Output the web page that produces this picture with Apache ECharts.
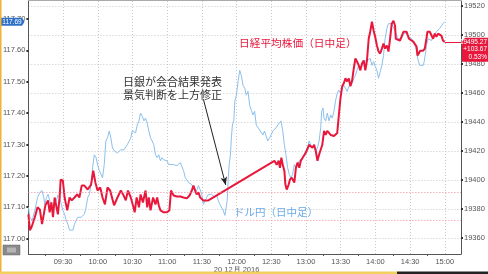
<!DOCTYPE html>
<html><head><meta charset="utf-8">
<script src="https://cdn.jsdelivr.net/npm/echarts@6/dist/echarts.min.js"></script>
<style>html,body{margin:0;padding:0;background:#fff;overflow:hidden}#c{width:488px;height:274px}</style>
</head><body><div id="c"></div>
<script>
// ---- data (minutes after 09:00, value) ----
const xLabelMinutes = [30, 60, 90, 120, 150, 180, 210, 240, 270, 300, 330, 360];
const dateLabel = '20 12月 2016';
const usdTicks = [117.0, 117.1, 117.2, 117.3, 117.4, 117.5, 117.6, 117.7];
const nikTicks = [19360, 19380, 19400, 19420, 19440, 19460, 19480, 19500, 19520];
const nikkeiPrevClose = 19391.6;
const usdRefLevel = 117.055;
const nikkeiTagLines = ['19495.27', '+103.67', '0.53%'];
const usdTag = '117.69';

const nikkeiPoints = [
[0,19376.4],[1.3,19365.5],[2.7,19367.5],[5.6,19374.4],[7.9,19381.2],[9.9,19379.8],[11.8,19369.6],[14.7,19382.6],[17.0,19386.0],[18.4,19377.8],[19.9,19384.6],[21.3,19374.4],[22.7,19388.0],[24.2,19388.0],[25.5,19376.4],[27.0,19388.0],[27.9,19400.3],[29.8,19399.7],[31.3,19388.0],[33.6,19379.1],[35.6,19388.0],[37.5,19386.0],[39.9,19388.0],[42.2,19390.1],[44.1,19388.0],[46.1,19396.2],[48.4,19396.2],[51.3,19393.5],[54.2,19396.9],[56.1,19406.5],[57.9,19398.3],[59.8,19392.8],[62.1,19394.9],[64.1,19388.0],[66.2,19383.2],[68.4,19394.9],[70.7,19392.8],[72.7,19386.7],[74.1,19382.6],[77.0,19388.0],[79.9,19392.8],[81.9,19390.1],[84.2,19386.0],[86.1,19392.8],[88.5,19388.0],[90.4,19382.6],[91.9,19377.8],[93.6,19388.0],[95.6,19381.2],[97.0,19390.1],[99.0,19384.6],[101.3,19392.8],[102.7,19381.2],[104.1,19388.0],[105.6,19379.1],[107.8,19388.0],[109.9,19383.2],[111.3,19388.0],[112.7,19382.6],[114.2,19379.1],[117.0,19377.8],[119.8,19377.8],[121.9,19379.1],[123.3,19392.8],[125.6,19389.4],[128.4,19388.7],[131.3,19388.7],[134.1,19388.0],[137.0,19387.4],[139.3,19389.4],[141.3,19392.8],[142.7,19396.2],[144.2,19392.8],[145.5,19390.1],[147.0,19391.5],[148.5,19388.0],[149.8,19386.7],[151.3,19386.0],[155.6,19386.0],
[212.7,19413.3],[214.7,19410.6],[216.4,19413.3],[217.5,19408.5],[218.7,19415.4],[219.9,19410.6],[221.3,19406.5],[222.2,19396.9],[223.3,19393.5],[225.0,19396.9],[226.1,19400.3],[227.6,19401.7],[229.9,19398.3],[231.3,19408.5],[232.7,19412.0],[234.2,19408.5],[235.5,19413.3],[237.0,19412.0],[239.8,19418.8],[241.3,19417.5],[242.7,19424.3],[244.1,19425.6],[245.6,19422.2],[247.0,19424.3],[248.4,19420.2],[249.9,19413.3],[251.3,19417.5],[252.7,19420.9],[254.1,19424.3],[255.6,19433.9],[257.0,19431.1],[258.4,19433.9],[259.9,19432.5],[261.3,19431.1],[264.2,19430.4],[265.5,19429.1],[267.0,19432.5],[268.4,19444.8],[269.8,19456.4],[271.3,19464.6],[272.7,19466.7],[274.1,19470.1],[275.6,19468.0],[277.0,19470.1],[278.4,19464.6],[279.9,19468.7],[281.3,19476.9],[282.7,19483.8],[284.1,19481.7],[285.6,19479.0],[287.0,19475.6],[288.4,19480.4],[289.9,19482.4],[291.3,19475.6],[292.7,19482.4],[294.2,19497.4],[295.5,19502.2],[297.0,19509.1],[298.5,19502.9],[299.8,19498.8],[301.3,19492.7],[302.7,19488.6],[304.1,19487.2],[305.6,19490.6],[307.0,19494.0],[308.4,19490.6],[309.9,19492.7],[311.3,19488.6],[312.7,19497.4],[314.1,19507.7],[315.6,19509.8],[317.0,19506.3],[317.6,19497.4],[319.3,19496.1],[321.3,19496.1],[322.7,19495.4],[324.2,19502.2],[325.5,19502.2],[327.0,19502.2],[329.0,19497.4],[330.4,19498.1],[332.7,19495.4],[334.1,19496.1],[335.6,19492.0],[336.4,19485.8],[337.5,19487.2],[338.7,19489.2],[341.3,19489.2],[342.7,19490.6],[344.1,19497.4],[345.0,19502.2],[347.0,19502.2],[348.4,19502.9],[349.9,19497.4],[351.3,19500.9],[352.7,19498.8],[354.2,19500.9],[355.5,19502.2],[357.0,19499.5],[358.5,19496.1],[359.8,19495.27]
];

const usdjpyPoints = [
[0,117.100],[1.3,117.068],[3.3,117.058],[5.6,117.090],[7.9,117.131],[9.9,117.147],[11.8,117.153],[13.3,117.131],[14.1,117.109],[15.6,117.131],[17.0,117.141],[18.4,117.122],[19.9,117.100],[21.3,117.090],[22.7,117.109],[24.2,117.122],[25.5,117.138],[27.0,117.131],[28.5,117.109],[29.8,117.090],[31.3,117.078],[32.7,117.058],[34.1,117.046],[35.6,117.027],[37.0,117.021],[38.4,117.027],[39.9,117.046],[41.3,117.058],[42.7,117.068],[44.1,117.062],[45.6,117.068],[47.0,117.068],[48.4,117.078],[49.9,117.100],[51.3,117.131],[52.7,117.141],[54.2,117.172],[55.5,117.226],[57.0,117.267],[58.5,117.258],[59.8,117.236],[61.3,117.217],[62.7,117.217],[64.1,117.194],[65.6,117.236],[67.0,117.311],[68.4,117.321],[69.9,117.343],[71.3,117.321],[72.7,117.289],[74.1,117.280],[77.0,117.273],[79.9,117.283],[82.7,117.283],[85.5,117.299],[88.5,117.321],[89.8,117.343],[91.3,117.346],[92.7,117.337],[94.1,117.362],[95.6,117.375],[97.0,117.400],[98.4,117.390],[99.9,117.375],[101.3,117.384],[102.7,117.368],[104.1,117.343],[105.6,117.321],[107.0,117.311],[108.4,117.299],[109.9,117.267],[111.3,117.258],[112.7,117.267],[114.2,117.248],[115.5,117.258],[117.0,117.251],[119.8,117.248],[121.3,117.236],[122.7,117.242],[125.6,117.236],[128.4,117.232],[131.3,117.242],[132.7,117.236],[134.1,117.217],[135.6,117.194],[137.0,117.188],[138.4,117.179],[139.9,117.185],[141.3,117.172],[142.7,117.156],[144.2,117.153],[145.5,117.153],[147.0,117.169],[148.5,117.156],[149.8,117.141],[151.3,117.109],[152.7,117.109],[154.1,117.131],[155.6,117.141],[157.0,117.147],[158.4,117.141],[159.9,117.147],[161.3,117.131],[162.7,117.138],[164.1,117.122],[165.6,117.109],[167.0,117.106],[168.4,117.090],[169.9,117.074],[170.7,117.078],[171.9,117.122],[172.7,117.185],[173.6,117.236],[174.7,117.267],[175.5,117.321],[176.4,117.362],[177.6,117.375],[178.5,117.438],[179.8,117.457],[181.3,117.501],[182.7,117.536],[184.1,117.520],[185.6,117.488],[187.0,117.479],[188.4,117.457],[189.9,117.469],[191.3,117.425],[192.7,117.409],[194.1,117.394],[195.6,117.406],[197.0,117.362],[198.4,117.368],[199.9,117.346],[201.3,117.343],[202.7,117.330],[204.2,117.343],[205.5,117.327],[207.0,117.311],[208.5,117.321],[209.8,117.330],[211.3,117.343],[212.7,117.346],[214.1,117.353],[215.6,117.362],[217.0,117.362],[218.4,117.375],[219.9,117.343],[221.3,117.299],[222.7,117.267],[224.1,117.226],[225.6,117.204],[227.0,117.194],[228.4,117.204],[229.9,117.236],[231.3,117.226],[232.7,117.236],[234.2,117.248],[235.5,117.248],[237.0,117.258],[238.5,117.267],[239.8,117.280],[241.3,117.289],[242.7,117.311],[244.1,117.299],[245.6,117.289],[247.0,117.296],[248.4,117.280],[249.9,117.289],[251.3,117.311],[252.7,117.353],[253.6,117.406],[254.7,117.416],[255.6,117.384],[257.0,117.375],[258.4,117.400],[259.9,117.375],[261.3,117.394],[262.7,117.384],[264.2,117.406],[265.5,117.438],[267.0,117.463],[268.4,117.473],[269.8,117.463],[271.3,117.479],[272.7,117.488],[274.1,117.479],[275.6,117.469],[277.0,117.485],[278.4,117.479],[279.9,117.495],[281.3,117.511],[282.7,117.520],[284.1,117.536],[285.6,117.552],[287.0,117.542],[288.4,117.536],[289.9,117.564],[291.3,117.558],[292.7,117.567],[294.2,117.564],[295.5,117.574],[297.0,117.552],[298.5,117.564],[299.8,117.549],[301.3,117.536],[302.7,117.511],[304.1,117.517],[305.6,117.552],[307.0,117.583],[308.4,117.637],[309.9,117.669],[311.3,117.685],[312.7,117.691],[314.1,117.685],[315.6,117.685],[317.0,117.662],[318.4,117.646],[319.9,117.637],[321.3,117.631],[322.7,117.637],[324.2,117.653],[325.5,117.659],[327.0,117.653],[328.5,117.643],[329.8,117.643],[331.3,117.637],[332.7,117.631],[334.1,117.621],[335.6,117.596],[337.0,117.567],[338.4,117.552],[339.9,117.549],[341.3,117.552],[342.2,117.564],[343.3,117.590],[344.1,117.615],[345.6,117.637],[347.0,117.631],[348.4,117.631],[349.9,117.643],[351.3,117.646],[352.7,117.659],[354.2,117.662],[355.5,117.669],[357.0,117.675],[358.5,117.685],[359.8,117.691]
];

// annotation arrow (data space: minutes, USD/JPY)
const arrowFrom = [151.3, 117.444];
const arrowTo = [170.6, 117.171];

// ---- chart ----
const X_MAX = 374;
const font = 'Liberation Sans';
const cjk = '"Noto Sans CJK JP"';
const pad = n => (n < 10 ? '0' : '') + n;
function fmtTime(m) {
  const t = 540 + Math.round(m);
  let s = pad(Math.floor(t / 60)) + ':' + pad(t % 60);
  if (Math.round(m) === 180) s += '\n' + dateLabel;
  return s;
}
const gridLineStyle = { color: '#c8c8c8', type: [1, 2], width: 1 };

const chart = echarts.init(document.getElementById('c'), null, { renderer: 'canvas' });
const option = {
  animation: false,
  backgroundColor: '#ffffff',
  grid: { left: 25, right: 27, top: 1, bottom: 17, containLabel: false },
  xAxis: {
    type: 'value', min: 0, max: X_MAX, interval: 30,
    axisLine: { show: true, lineStyle: { color: '#555', width: 1 } },
    axisTick: { show: false },
    minorTick: { show: true, splitNumber: 2, length: 2, lineStyle: { color: '#555' } },
    axisLabel: {
      customValues: xLabelMinutes, formatter: fmtTime,
      fontSize: 7.5, color: '#555', fontFamily: font, margin: 4, lineHeight: 8
    },
    splitLine: { show: true, lineStyle: gridLineStyle }
  },
  yAxis: [{
    type: 'value', position: 'left', min: 116.951, max: 117.757,
    axisLine: { show: true, lineStyle: { color: '#555', width: 1 } },
    axisTick: { show: true, customValues: usdTicks, length: 2, lineStyle: { color: '#333', width: 2 } },
    axisLabel: { customValues: usdTicks, formatter: v => v.toFixed(2), fontSize: 7.5, color: '#555', fontFamily: font, margin: 3 },
    splitLine: { show: false }
  }, {
    type: 'value', position: 'right', min: 19349.06, max: 19523.4,
    axisLine: { show: true, lineStyle: { color: '#555', width: 1 } },
    axisTick: { show: true, customValues: nikTicks, length: 2, lineStyle: { color: '#333', width: 2 } },
    axisLabel: { customValues: nikTicks, formatter: v => String(Math.round(v)), fontSize: 7.5, color: '#555', fontFamily: font, margin: 3 },
    splitLine: { show: true, lineStyle: gridLineStyle }
  }],
  series: [{
    name: 'ドル円', type: 'line', yAxisIndex: 0, data: usdjpyPoints,
    showSymbol: false, symbol: 'none', z: 3,
    lineStyle: { color: '#8cc0ec', width: 1 },
    markLine: {
      silent: true, symbol: ['none', 'none'], label: { show: false },
      data: [
        { yAxis: usdRefLevel, lineStyle: { color: '#f08a9a', type: [1, 2], width: 1 } },
        [{ coord: arrowFrom, symbol: 'none' },
         { coord: arrowTo, symbol: 'arrow', symbolSize: [5, 8], lineStyle: { color: '#222', width: 1, type: 'solid' } }]
      ]
    }
  }, {
    name: '日経平均', type: 'line', yAxisIndex: 1, data: nikkeiPoints,
    showSymbol: false, symbol: 'none', z: 4,
    lineStyle: { color: '#e8183c', width: 2 },
    markLine: {
      silent: true, symbol: ['none', 'none'], label: { show: false },
      data: [
        { yAxis: nikkeiPrevClose, lineStyle: { color: '#f08a9a', type: [1, 2], width: 1 } },
        [{ coord: nikkeiPoints[nikkeiPoints.length - 1], lineStyle: { color: '#e8183c', width: 1, type: 'solid' } },
         { coord: [X_MAX, nikkeiPoints[nikkeiPoints.length - 1][1]] }]
      ]
    }
  }]
};
chart.setOption(option);

// overlay annotations and tags
const lastUsd = usdjpyPoints[usdjpyPoints.length - 1][1];
const lastNik = nikkeiPoints[nikkeiPoints.length - 1][1];
const yUsd = chart.convertToPixel({ yAxisIndex: 0 }, lastUsd);
const yNik = chart.convertToPixel({ yAxisIndex: 1 }, lastNik);
const xLeft = chart.convertToPixel({ xAxisIndex: 0 }, 0);
const xRight = chart.convertToPixel({ xAxisIndex: 0 }, X_MAX);
const tagFont = '6.5px ' + font;
chart.setOption({
  graphic: [
    // frame artifacts
    { type: 'rect', shape: { x: 0, y: 0, width: 1.5, height: 274 }, style: { fill: '#f2b233' }, z: 100 },
    { type: 'rect', shape: { x: 0, y: 271.5, width: 397, height: 2.5 }, style: { fill: '#f2d060' }, z: 100 },
    { type: 'rect', shape: { x: 397, y: 271.5, width: 91, height: 2.5 }, style: { fill: '#222' }, z: 100 },
    { type: 'line', shape: { x1: xLeft, y1: 0.5, x2: xRight, y2: 0.5 }, style: { stroke: '#aaa', lineWidth: 1 }, z: 50 },
    // grey icon bottom-left
    { type: 'rect', shape: { x: 3, y: 245, width: 17, height: 10 }, style: { fill: '#8a8a8a', stroke: '#666', lineWidth: 0.5 }, z: 60 },
    { type: 'rect', shape: { x: 7, y: 247.5, width: 9, height: 5 }, style: { fill: '#b5b5b5' }, z: 61 },
    // series labels
    { type: 'text', x: 239, y: 43, style: { text: '日経平均株価（日中足）', fill: '#e8183c', font: '10.7px ' + cjk, textVerticalAlign: 'middle' }, z: 70 },
    { type: 'text', x: 234, y: 212, style: { text: 'ドル円（日中足）', fill: '#6aaae6', font: '10.5px ' + cjk, textVerticalAlign: 'middle' }, z: 70 },
    // annotation text
    { type: 'text', x: 123, y: 82, style: { text: '日銀が会合結果発表', fill: '#333', font: '11px ' + cjk, textVerticalAlign: 'middle' }, z: 70 },
    { type: 'text', x: 123, y: 95, style: { text: '景気判断を上方修正', fill: '#333', font: '11px ' + cjk, textVerticalAlign: 'middle' }, z: 70 },
    // left USD/JPY tag
    { type: 'polygon', shape: { points: [[1, yUsd - 4], [22, yUsd - 4], [24.5, yUsd], [22, yUsd + 4], [1, yUsd + 4]] }, style: { fill: '#2e6fc7' }, z: 80 },
    { type: 'text', x: 12, y: yUsd, style: { text: usdTag, fill: '#fff', font: tagFont, textAlign: 'center', textVerticalAlign: 'middle' }, z: 81 },
    // right Nikkei tag
    { type: 'polygon', shape: { points: [[xRight + 1, yNik], [xRight + 4, yNik - 4], [488, yNik - 4], [488, yNik + 20], [xRight + 1, yNik + 20]] }, style: { fill: '#e8183c' }, z: 80 },
    { type: 'text', x: 487, y: yNik, style: { text: nikkeiTagLines[0], fill: '#fff', font: tagFont, textAlign: 'right', textVerticalAlign: 'middle' }, z: 81 },
    { type: 'text', x: 487, y: yNik + 7.5, style: { text: nikkeiTagLines[1], fill: '#fff', font: tagFont, textAlign: 'right', textVerticalAlign: 'middle' }, z: 81 },
    { type: 'text', x: 487, y: yNik + 15, style: { text: nikkeiTagLines[2], fill: '#fff', font: tagFont, textAlign: 'right', textVerticalAlign: 'middle' }, z: 81 }
  ]
});
</script>
</body></html>
